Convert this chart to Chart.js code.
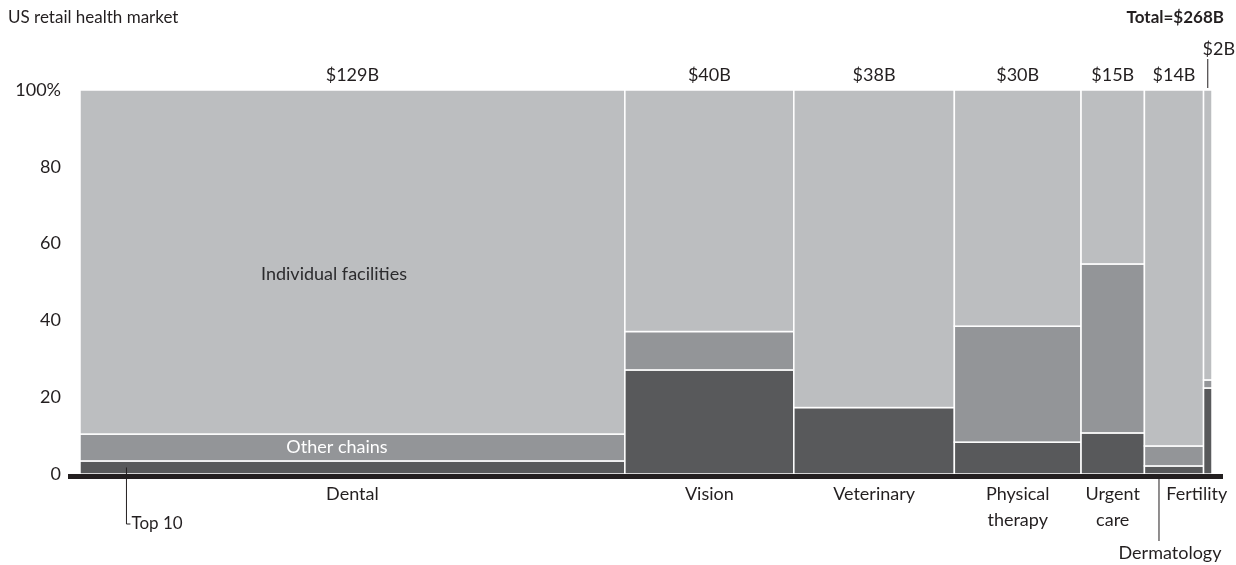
<!DOCTYPE html>
<html>
<head>
<meta charset="utf-8">
<script src="https://cdn.jsdelivr.net/npm/chart.js@4.4.0/dist/chart.umd.min.js"></script>
<style>
  html, body { margin: 0; padding: 0; background: #fff; }
  #wrap { width: 1236px; height: 565px; }
</style>
</head>
<body>
<div id="wrap"><canvas id="mekko"></canvas></div>
<script>
// Market segments (width = market size in $B, stacked shares in %)
const categories = ["Dental", "Vision", "Veterinary", "Physical therapy", "Urgent care", "Dermatology", "Fertility"];
const marketSize = [129, 40, 38, 30, 15, 14, 2];
const top10Share = [3.4, 27.1, 17.3, 8.3, 10.7, 2.1, 22.4];
const otherChainsShare = [7.0, 10.0, 0, 30.2, 44.0, 5.2, 2.1];
const individualShare = top10Share.map((v, i) => 100 - v - otherChainsShare[i]);
const sizeLabels = ["$129B", "$40B", "$38B", "$30B", "$15B", "$14B", "$2B"];
const yTicks = [0, 20, 40, 60, 80, 100];

const total = marketSize.reduce((a, b) => a + b, 0);
const FONT = "Lato, 'Noto Sans', sans-serif";
const INK = "#231f20";
const segColors = ["#58595b", "#939598", "#bcbec0"];

// cumulative x start of each column
const xStart = [];
marketSize.reduce((acc, v, i) => { xStart[i] = acc; return acc + v; }, 0);

const mekkoPlugin = {
    id: "mekko",
    afterDraw(chart) {
        const ctx = chart.ctx;
        const xs = chart.scales.x, ys = chart.scales.y;
        const bottom = ys.getPixelForValue(0);
        const top = ys.getPixelForValue(100);

        // columns
        categories.forEach((cat, i) => {
            const x0 = xs.getPixelForValue(xStart[i]);
            const x1 = xs.getPixelForValue(xStart[i] + marketSize[i]);
            const parts = [top10Share[i], otherChainsShare[i], individualShare[i]];
            let base = 0;
            parts.forEach((p, k) => {
                if (p <= 0) return;
                const yb = ys.getPixelForValue(base);
                const yt = ys.getPixelForValue(base + p);
                ctx.fillStyle = segColors[k];
                ctx.fillRect(x0, yt, x1 - x0, yb - yt);
                ctx.strokeStyle = "#ffffff";
                ctx.lineWidth = 1.5;
                ctx.strokeRect(x0, yt, x1 - x0, yb - yt);
                base += p;
            });
        });

        // baseline
        ctx.fillStyle = INK;
        ctx.fillRect(xs.left - 12, bottom, xs.right - xs.left + 23, 5);

        ctx.textBaseline = "middle";
        ctx.fillStyle = INK;

        // titles
        ctx.font = "17px " + FONT;
        ctx.textAlign = "left";
        ctx.fillText("US retail health market", 8, 18);
        ctx.font = "bold 17px " + FONT;
        ctx.textAlign = "right";
        ctx.fillText("Total=$" + total + "B", 1224, 18);

        // size labels above columns
        ctx.font = "18px " + FONT;
        ctx.textAlign = "center";
        sizeLabels.forEach((lab, i) => {
            const cx = xs.getPixelForValue(xStart[i] + marketSize[i] / 2);
            if (i === sizeLabels.length - 1) {
                ctx.fillText(lab, cx + 11, top - 41);
                ctx.strokeStyle = INK;
                ctx.lineWidth = 1;
                ctx.beginPath();
                ctx.moveTo(cx, top - 31);
                ctx.lineTo(cx, top - 2);
                ctx.stroke();
            } else {
                ctx.fillText(lab, cx, top - 15);
            }
        });

        // category labels below
        const below = {
            "Physical therapy": { lines: ["Physical", "therapy"], dx: 0 },
            "Urgent care": { lines: ["Urgent", "care"], dx: 0 },
            "Fertility": { lines: ["Fertility"], dx: -11 }
        };
        categories.forEach((cat, i) => {
            const cx = xs.getPixelForValue(xStart[i] + marketSize[i] / 2);
            if (cat === "Dermatology") {
                ctx.strokeStyle = INK;
                ctx.lineWidth = 1;
                ctx.beginPath();
                ctx.moveTo(cx - 15, bottom + 5);
                ctx.lineTo(cx - 15, bottom + 67);
                ctx.stroke();
                ctx.fillText(cat, cx - 4, bottom + 79);
                return;
            }
            const b = below[cat] || { lines: [cat], dx: 0 };
            b.lines.forEach((ln, j) => ctx.fillText(ln, cx + b.dx, bottom + 20 + j * 26));
        });

        // segment labels inside Dental
        ctx.textAlign = "left";
        ctx.fillStyle = "#2b2b2d";
        ctx.fillText("Individual facilities", 261, ys.getPixelForValue(52));
        ctx.textAlign = "center";
        ctx.fillStyle = "#ffffff";
        ctx.fillText("Other chains", 337, ys.getPixelForValue(top10Share[0] + otherChainsShare[0] / 2));

        // Top 10 callout
        const tx = xs.getPixelForValue(11);
        ctx.strokeStyle = INK;
        ctx.lineWidth = 1;
        ctx.beginPath();
        ctx.moveTo(tx, ys.getPixelForValue(top10Share[0] / 2));
        ctx.lineTo(tx, bottom + 50);
        ctx.lineTo(tx + 4, bottom + 50);
        ctx.stroke();
        ctx.fillStyle = INK;
        ctx.textAlign = "left";
        ctx.font = "17px " + FONT;
        ctx.fillText("Top 10", tx + 5, bottom + 50);
    }
};

new Chart(document.getElementById("mekko"), {
    type: "scatter",
    data: { datasets: [] },
    options: {
        responsive: true,
        maintainAspectRatio: false,
        animation: false,
        layout: { padding: { left: 0, right: 24, top: 90, bottom: 91 } },
        plugins: { legend: { display: false }, tooltip: { enabled: false } },
        scales: {
            x: { type: "linear", min: 0, max: total, display: false },
            y: {
                type: "linear",
                min: 0,
                max: 100,
                afterFit(scale) { scale.width = 80; },
                afterBuildTicks(scale) { scale.ticks = yTicks.map(v => ({ value: v })); },
                grid: { display: false, drawTicks: false },
                border: { display: false },
                ticks: {
                    padding: 19,
                    color: INK,
                    font: { family: FONT, size: 18 },
                    callback: v => v === 100 ? "100%" : v
                }
            }
        }
    },
    plugins: [mekkoPlugin]
});
</script>
</body>
</html>
